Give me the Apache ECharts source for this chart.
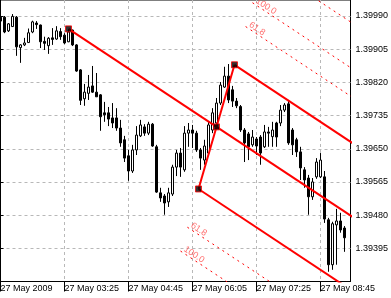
<!DOCTYPE html>
<html>
<head>
<meta charset="utf-8">
<script src="https://cdn.jsdelivr.net/npm/echarts@6/dist/echarts.min.js"></script>
<style>
html,body{margin:0;padding:0;background:#fff;}
#chart{width:391px;height:298px;}
</style>
</head>
<body>
<div id="chart"></div>
<script>
// M5 bars, 27 May 2009, one bar = 5 minutes, bar 0 = 02:05
var opens = [1.39987,1.39987,1.39952,1.39963,1.39987,1.39909,1.39916,1.39922,1.39949,1.39972,
    1.39967,1.39925,1.39914,1.39934,1.39931,1.39950,1.39941,1.39924,1.39954,1.39916,
    1.39852,1.39778,1.39792,1.39811,1.39795,1.39788,1.39742,1.39742,1.39729,1.39729,
    1.39703,1.39673,1.39632,1.39593,1.39647,1.39683,1.39706,1.39690,1.39713,1.39655,
    1.39537,1.39529,1.39514,1.39534,1.39603,1.39639,1.39596,1.39690,1.39698,1.39690,
    1.39647,1.39621,1.39639,1.39698,1.39716,1.39767,1.39808,1.39836,1.39801,1.39772,
    1.39758,1.39698,1.39688,1.39660,1.39675,1.39680,1.39655,1.39693,1.39681,1.39716,
    1.39716,1.39749,1.39765,1.39698,1.39673,1.39642,1.39596,1.39575,1.39527,1.39578,
    1.39578,1.39578,1.39468,1.39353,1.39455,1.39465,1.39447];
var closes = [1.39977,1.39949,1.39970,1.39989,1.39911,1.39916,1.39921,1.39947,1.39975,1.39968,
    1.39924,1.39920,1.39933,1.39930,1.39952,1.39937,1.39921,1.39949,1.39916,1.39849,
    1.39774,1.39795,1.39808,1.39795,1.39783,1.39732,1.39737,1.39726,1.39716,1.39703,
    1.39665,1.39626,1.39593,1.39647,1.39685,1.39711,1.39690,1.39713,1.39657,1.39539,
    1.39524,1.39511,1.39537,1.39603,1.39639,1.39603,1.39690,1.39698,1.39690,1.39647,
    1.39626,1.39657,1.39711,1.39742,1.39767,1.39813,1.39836,1.39775,1.39772,1.39760,
    1.39698,1.39665,1.39655,1.39680,1.39657,1.39639,1.39693,1.39690,1.39698,1.39680,
    1.39749,1.39762,1.39665,1.39660,1.39642,1.39601,1.39570,1.39527,1.39565,1.39616,
    1.39621,1.39470,1.39353,1.39458,1.39465,1.39442,1.39422];
var lows = [1.39975,1.39946,1.39949,1.39962,1.39888,1.39870,1.39913,1.39921,1.39946,1.39957,
    1.39908,1.39903,1.39893,1.39916,1.39929,1.39929,1.39918,1.39923,1.39913,1.39847,
    1.39762,1.39760,1.39775,1.39793,1.39783,1.39696,1.39719,1.39708,1.39703,1.39696,
    1.39655,1.39616,1.39568,1.39588,1.39634,1.39680,1.39683,1.39685,1.39655,1.39537,
    1.39514,1.39481,1.39501,1.39529,1.39580,1.39578,1.39591,1.39655,1.39652,1.39642,
    1.39596,1.39609,1.39634,1.39690,1.39711,1.39762,1.39806,1.39767,1.39757,1.39754,
    1.39693,1.39616,1.39621,1.39655,1.39634,1.39609,1.39652,1.39655,1.39655,1.39655,
    1.39708,1.39744,1.39660,1.39634,1.39629,1.39570,1.39550,1.39481,1.39519,1.39573,
    1.39575,1.39460,1.39335,1.39340,1.39353,1.39435,1.39386];
var highs = [1.39990,1.39990,1.39972,1.39995,1.39990,1.39918,1.39934,1.39958,1.39978,1.39977,
    1.39968,1.39937,1.39936,1.39959,1.39964,1.39959,1.39946,1.39957,1.39955,1.39918,
    1.39854,1.39816,1.39839,1.39862,1.39844,1.39790,1.39770,1.39757,1.39767,1.39754,
    1.39724,1.39683,1.39647,1.39660,1.39708,1.39724,1.39713,1.39719,1.39716,1.39660,
    1.39550,1.39534,1.39550,1.39609,1.39647,1.39652,1.39708,1.39716,1.39711,1.39696,
    1.39652,1.39673,1.39719,1.39754,1.39780,1.39821,1.39860,1.39867,1.39811,1.39780,
    1.39762,1.39703,1.39693,1.39698,1.39680,1.39685,1.39711,1.39706,1.39719,1.39719,
    1.39762,1.39767,1.39775,1.39703,1.39678,1.39655,1.39603,1.39583,1.39575,1.39626,
    1.39639,1.39593,1.39473,1.39463,1.39496,1.39486,1.39452];

// time axis labels (bar index -> text)
var labelBars = [0, 16, 32, 48, 64, 80];
var timeLabels = ['27 May 2009', '27 May 03:25', '27 May 04:45', '27 May 06:05', '27 May 07:25', '27 May 08:45'];
// price scale
var priceTicks = [1.39395, 1.39480, 1.39565, 1.39650, 1.39735, 1.39820, 1.39905, 1.39990];
var priceBottom = 1.39310;
var priceTop = 1.40031;
var priceStep = 0.00085;
var barsShown = 87.5;

// andrews pitchfork: anchor points [bar, price]
var pfPoints = [[17, 1.39957], [58.5, 1.39865], [49.5, 1.39547], [54, 1.39706]];
// solid lines: median, upper, lower, handle
var pfLines = [
    [[17, 1.39957], [90, 1.39462]],
    [[58.5, 1.39865], [90, 1.39651]],
    [[49.5, 1.39547], [90, 1.39272]],
    [[49.5, 1.39547], [58.5, 1.39865]]
];
// dotted level lines
var fibLines = [
    [[61.28, 1.39963], [90, 1.39768]],
    [[63, 1.40024], [90, 1.39841]],
    [[65.78, 1.40122], [90, 1.39958]],
    [[46.72, 1.39449], [90, 1.39156]],
    [[45, 1.39388], [90, 1.39083]]
];
var fibNames = ['61.8', '100.0', '161.8', '61.8', '100.0'];

function py(p) { return p - priceBottom; }

var candles = [];
for (var i = 0; i < opens.length; i++) {
    candles.push([i, py(opens[i]), py(closes[i]), py(lows[i]), py(highs[i])]);
}

var series = [{
    type: 'candlestick',
    data: candles,
    encode: {x: 0, y: [1, 2, 3, 4]},
    barWidth: 3,
    itemStyle: {color: '#fff', color0: '#000', borderColor: '#000', borderColor0: '#000', borderWidth: 1},
    z: 2
}];

for (var j = 0; j < fibLines.length; j++) {
    series.push({
        type: 'line',
        data: fibLines[j].map(function (p) { return [p[0], py(p[1])]; }),
        showSymbol: false,
        lineStyle: {color: '#ff0000', width: 1, type: [2, 4]},
        z: 3
    });
}
for (var j = 0; j < pfLines.length; j++) {
    series.push({
        type: 'line',
        data: pfLines[j].map(function (p) { return [p[0], py(p[1])]; }),
        showSymbol: false,
        lineStyle: {color: '#ff0000', width: 2},
        z: 4
    });
}
// level captions at the start of each dotted line
series.push({
    type: 'scatter',
    symbolSize: 0,
    data: fibLines.map(function (l, n) { return {name: fibNames[n], value: [l[0][0], py(l[0][1])]}; }),
    label: {
        show: true, formatter: '{b}', position: [0, 0], align: 'left', verticalAlign: 'bottom',
        rotate: -33.5, offset: [2, 0],
        color: '#ff4a4a', fontSize: 9, fontFamily: 'Liberation Sans'
    },
    z: 5
});
series.push({
    type: 'scatter',
    symbol: 'rect',
    symbolSize: 6,
    data: pfPoints.map(function (p) { return [p[0], py(p[1])]; }),
    itemStyle: {color: '#000', borderColor: '#ff0000', borderWidth: 1},
    z: 6
});

var axisFont = {color: '#000', fontSize: 9, fontFamily: 'Liberation Sans'};
var gridLine = {show: true, lineStyle: {color: '#b8b8b8', width: 1, type: [3, 3]}};

var option = {
    animation: false,
    backgroundColor: '#fff',
    grid: {left: 0.5, right: 40.5, top: 0, bottom: 16.5, show: true, borderColor: '#000', borderWidth: 1,
        backgroundColor: '#fff', outerBoundsMode: 'none'},
    xAxis: {
        type: 'value', min: 0, max: barsShown, interval: 8,
        axisLine: {show: true, lineStyle: {color: '#000', width: 1}},
        axisTick: {show: true, customValues: labelBars, length: 10, lineStyle: {color: '#000'}},
        axisLabel: Object.assign({
            customValues: labelBars, align: 'left', margin: 3,
            formatter: function (v) {
                var n = labelBars.indexOf(Math.round(v));
                return n < 0 ? '' : timeLabels[n];
            }
        }, axisFont),
        splitLine: gridLine
    },
    yAxis: {
        type: 'value', position: 'right', min: 0, max: py(priceTop), interval: priceStep,
        axisLine: {show: true, lineStyle: {color: '#000', width: 1}},
        axisTick: {show: true, customValues: priceTicks.map(py), length: 3, lineStyle: {color: '#000'}},
        axisLabel: Object.assign({
            customValues: priceTicks.map(py), margin: 5,
            formatter: function (v) { return (v + priceBottom).toFixed(5); }
        }, axisFont),
        splitLine: gridLine
    },
    series: series
};

var chart = echarts.init(document.getElementById('chart'));
chart.setOption(option);
</script>
</body>
</html>
